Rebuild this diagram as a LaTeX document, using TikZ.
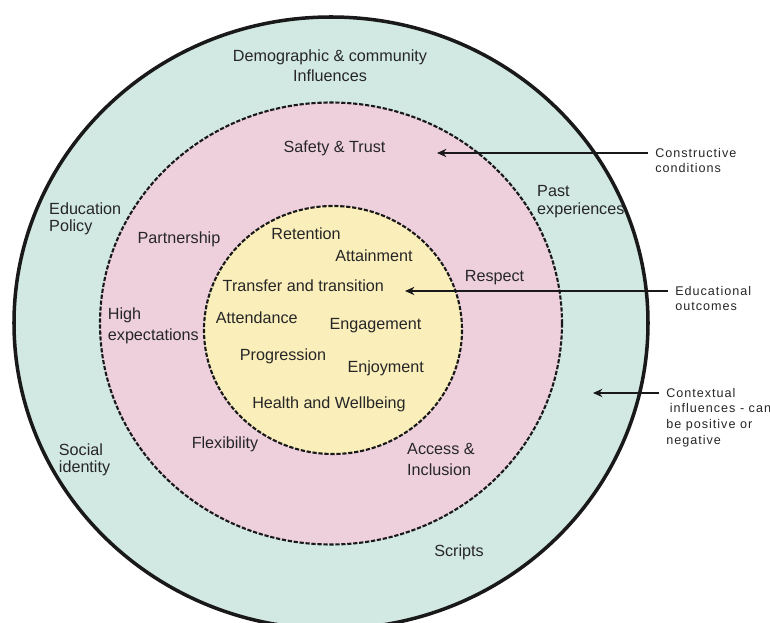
\documentclass[tikz,border=0pt]{standalone}
\usepackage{fontspec}
\setmainfont{Liberation Sans}
\newfontfamily\notefont[LetterSpace=8]{Liberation Sans}
\usetikzlibrary{arrows.meta}
\definecolor{ringteal}{RGB}{210,232,226}
\definecolor{ringpink}{RGB}{237,208,220}
\definecolor{ringyellow}{RGB}{250,238,186}
\definecolor{inkgrey}{RGB}{38,38,38}
\tikzset{
  lbl/.style={text=inkgrey, inner sep=0pt, anchor=base, font=\fontsize{13.8}{14.5}\selectfont},
  lblblock/.style={lbl, align=left, anchor=north west},
  note/.style={text=inkgrey, inner ysep=0pt, inner xsep=6pt, align=left, anchor=north west,
    font=\notefont\fontsize{10.75}{13.3}\selectfont},
  pointer/.style={draw=black!90, line width=1.9pt, -{Stealth[length=8pt,width=7pt]}},
  ring/.style={draw=black!90, line width=1.8pt, dash pattern=on 3.6pt off 1.5pt}
}

\begin{document}
\begin{tikzpicture}[x=0.03cm, y=-0.03cm]
\useasboundingbox (0,0) rectangle (770,623);
\draw[fill=ringteal, draw=black!90, line width=3pt] (331,323) ellipse [x radius=317, y radius=306];
\draw[ring, fill=ringpink] (331,323.5) ellipse [x radius=231, y radius=221];
\draw[ring, fill=ringyellow] (333,330) ellipse [x radius=129, y radius=124];

\node[lbl, align=center, anchor=center] (demog) at (330,66) {Demographic \& community\\[2.6pt]Influences};
\node[lbl] (safety) at (334.5,153) {Safety \& Trust};
\node[lblblock] (past) at (537,185) {Past\\[1pt]experiences};
\node[lblblock] (edpol) at (49,202.5) {Education\\Policy};
\node[lbl] (partner) at (179,243.3) {Partnership};
\node[lbl] (retent) at (306,239.5) {Retention};
\node[lbl] (attain) at (374,261.5) {Attainment};
\node[lbl] (respect) at (494.5,281.7) {Respect};
\node[lbl] (transfer) at (303.3,291.5) {Transfer and transition};
\node[lblblock] (highexp) at (107.7,307.5) {High\\[3.4pt]expectations};
\node[lbl] (attend) at (256.7,323.3) {Attendance};
\node[lbl] (engage) at (375.5,330) {Engagement};
\node[lbl] (progress) at (283,360.5) {Progression};
\node[lbl] (enjoy) at (385.7,373) {Enjoyment};
\node[lbl] (health) at (329,409) {Health and Wellbeing};
\node[lbl] (flex) at (225,448.3) {Flexibility};
\node[lblblock] (social) at (58.7,443.3) {Social\\identity};
\node[lblblock] (access) at (407,443.5) {Access \&\\[3.4pt]Inclusion};
\node[lbl] (scripts) at (459,557) {Scripts};

\node[note] (constr) at (648,148) {Constructive\\conditions};
\node[note] (eduout) at (668,286) {Educational\\outcomes};
\node[note] (context) at (659,388) {Contextual\\\hspace{3pt}influences - can\\be positive or\\negative};

\coordinate (constrTip) at (437,153);
\coordinate (eduTip) at (405,291);
\coordinate (contextTip) at (593,393);
\draw[pointer] (constr.west |- constrTip) -- (constrTip);
\draw[pointer] (eduout.west |- eduTip) -- (eduTip);
\draw[pointer] (context.west |- contextTip) -- (contextTip);
\end{tikzpicture}
\end{document}
